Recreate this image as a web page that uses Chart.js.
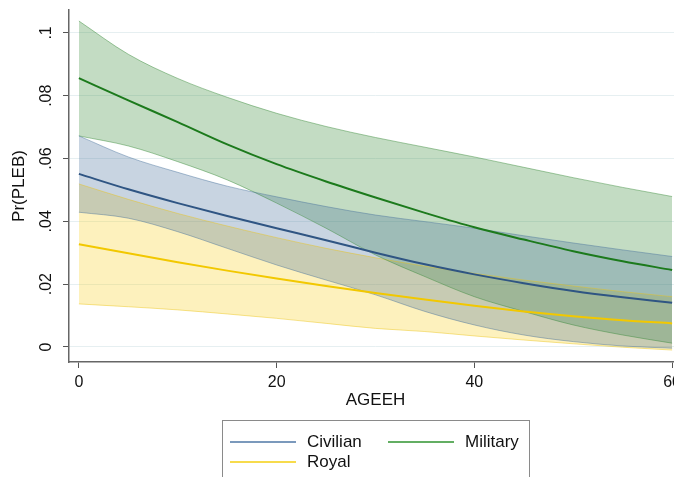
<!DOCTYPE html>
<html>
<head>
<meta charset="utf-8">
<script src="https://cdn.jsdelivr.net/npm/chart.js@4/dist/chart.umd.min.js"></script>
<style>
  html, body { margin: 0; padding: 0; background: #fff; overflow: hidden; }
  #wrap { width: 690px; height: 477px; position: relative; }
</style>
</head>
<body>
<div id="wrap"><canvas id="c" width="690" height="477"></canvas></div>
<script>
// Predicted Pr(PLEB) by age of executive (AGEEH), with 95% confidence bands
const ages = [0, 5, 10, 15, 20, 25, 30, 35, 40, 45, 50, 55, 60];

const civilian   = [0.0551, 0.0502, 0.0458, 0.0417, 0.0378, 0.0340, 0.0300, 0.0263, 0.0231, 0.0203, 0.0178, 0.0158, 0.0141];
const civilianHi = [0.0672, 0.0605, 0.0556, 0.0512, 0.0478, 0.0447, 0.0420, 0.0399, 0.0378, 0.0354, 0.0331, 0.0309, 0.0288];
const civilianLo = [0.0429, 0.0410, 0.0367, 0.0314, 0.0261, 0.0213, 0.0166, 0.0113, 0.0070, 0.0038, 0.0017, 0.0003, -0.0004];

const military   = [0.0856, 0.0785, 0.0716, 0.0645, 0.0582, 0.0527, 0.0476, 0.0427, 0.0381, 0.0342, 0.0305, 0.0273, 0.0245];
const militaryHi = [0.1038, 0.0932, 0.0855, 0.0795, 0.0744, 0.0702, 0.0667, 0.0636, 0.0605, 0.0572, 0.0539, 0.0508, 0.0479];
const militaryLo = [0.0672, 0.0640, 0.0590, 0.0532, 0.0458, 0.0378, 0.0293, 0.0224, 0.0160, 0.0113, 0.0070, 0.0038, 0.0012];

const royal      = [0.0327, 0.0298, 0.0270, 0.0243, 0.0218, 0.0194, 0.0172, 0.0151, 0.0131, 0.0113, 0.0098, 0.0085, 0.0075];
const royalHi    = [0.0519, 0.0470, 0.0425, 0.0385, 0.0348, 0.0314, 0.0284, 0.0257, 0.0234, 0.0213, 0.0194, 0.0176, 0.0160];
const royalLo    = [0.0137, 0.0128, 0.0118, 0.0105, 0.0091, 0.0075, 0.0059, 0.0049, 0.0035, 0.0022, 0.0010, -0.0001, -0.0010];

const xTicks = [0, 20, 40, 60];
const yTicks = [0, 0.02, 0.04, 0.06, 0.08, 0.1];
const yTickLabels = ['0', '.02', '.04', '.06', '.08', '.1'];

const FONT = "'Liberation Sans', Arial, Helvetica, sans-serif";

const pts = arr => arr.map((v, i) => ({ x: ages[i], y: v }));

const groups = [
  { name: 'Civilian', mid: civilian, hi: civilianHi, lo: civilianLo,
    line: '#2f5583', fill: 'rgba(72,112,155,0.30)', edge: 'rgba(72,112,155,0.45)', key: '#4f77a6' },
  { name: 'Military', mid: military, hi: militaryHi, lo: militaryLo,
    line: '#1c7a1c', fill: 'rgba(55,138,55,0.30)', edge: 'rgba(55,138,55,0.45)', key: '#2f932f' },
  { name: 'Royal', mid: royal, hi: royalHi, lo: royalLo,
    line: '#f2c800', fill: 'rgba(248,208,38,0.30)', edge: 'rgba(235,195,20,0.45)', key: '#f5cf10' }
];

const common = { pointRadius: 0, pointHoverRadius: 0, cubicInterpolationMode: 'monotone' };

// Fitted lines first so they are painted on top of the bands
const datasets = [];
groups.forEach(g => {
  datasets.push(Object.assign({
    label: g.name, isKey: true, keyColor: g.key,
    data: pts(g.mid), borderColor: g.line, borderWidth: 2, fill: false
  }, common));
});
groups.forEach(g => {
  const upperIndex = datasets.length;
  datasets.push(Object.assign({
    label: g.name + ' upper', data: pts(g.hi), borderColor: g.edge, borderWidth: 1,
    backgroundColor: g.fill, fill: upperIndex + 1
  }, common));
  datasets.push(Object.assign({
    label: g.name + ' lower', data: pts(g.lo), borderColor: g.edge, borderWidth: 1, fill: false
  }, common));
});

// Vertical y tick labels, placed through the y scale
const yLabelPlugin = {
  id: 'yLabels',
  afterDraw(chart) {
    const { ctx } = chart;
    const ys = chart.scales.y;
    ctx.save();
    ctx.font = '16px ' + FONT;
    ctx.fillStyle = '#111';
    ctx.textAlign = 'center';
    ctx.textBaseline = 'middle';
    yTicks.forEach((v, i) => {
      const py = ys.getPixelForValue(v);
      ctx.save();
      ctx.translate(47, py);
      ctx.rotate(-Math.PI / 2);
      ctx.fillText(yTickLabels[i], 0, 0);
      ctx.restore();
    });
    ctx.restore();
  }
};

// Boxed legend below the axis title
const legendBoxPlugin = {
  id: 'legendBox',
  afterDraw(chart) {
    const { ctx } = chart;
    const keys = chart.data.datasets.filter(d => d.isKey);
    const slots = [
      { x: 230, y: 442 },
      { x: 388, y: 442 },
      { x: 230, y: 462 }
    ];
    ctx.save();
    ctx.strokeStyle = '#8a8a8a';
    ctx.lineWidth = 1;
    ctx.strokeRect(222.5, 420.5, 307, 70);
    ctx.font = '17px ' + FONT;
    ctx.fillStyle = '#111';
    ctx.textBaseline = 'middle';
    ctx.textAlign = 'left';
    keys.forEach((d, i) => {
      const s = slots[i];
      ctx.strokeStyle = d.keyColor;
      ctx.lineWidth = 1.5;
      ctx.beginPath();
      ctx.moveTo(s.x, s.y);
      ctx.lineTo(s.x + 66, s.y);
      ctx.stroke();
      ctx.fillText(d.label, s.x + 77, s.y);
    });
    ctx.restore();
  }
};

new Chart(document.getElementById('c'), {
  type: 'line',
  data: { datasets },
  options: {
    responsive: false,
    animation: false,
    devicePixelRatio: 1,
    layout: { padding: { top: 10, left: 0, right: 8, bottom: 60 } },
    plugins: {
      legend: { display: false },
      tooltip: { enabled: false },
      filler: { drawTime: 'beforeDatasetsDraw' }
    },
    scales: {
      x: {
        type: 'linear', min: -1.0, max: 61,
        afterBuildTicks: s => { s.ticks = xTicks.map(v => ({ value: v })); },
        afterFit: s => { s.height = 55; },
        grid: { drawOnChartArea: false, drawTicks: true, tickLength: 6, tickColor: '#555', tickWidth: 1 },
        border: { color: '#666', width: 1.5 },
        ticks: { font: { family: FONT, size: 16 }, color: '#111', padding: 5, maxRotation: 0, minRotation: 0 },
        title: { display: true, text: 'AGEEH', color: '#111', font: { family: FONT, size: 17 }, padding: { top: 0, bottom: 6 } }
      },
      y: {
        type: 'linear', min: -0.0048, max: 0.1073,
        afterBuildTicks: s => { s.ticks = yTicks.map(v => ({ value: v })); },
        afterFit: s => { s.width = 69; },
        grid: { color: '#e6eff1', lineWidth: 1, drawTicks: true, tickLength: 6, tickColor: '#555', tickWidth: 1 },
        border: { color: '#666', width: 1.5 },
        ticks: { display: false },
        title: { display: true, text: 'Pr(PLEB)', color: '#111', font: { family: FONT, size: 17 }, padding: { top: 9, bottom: 0 } }
      }
    }
  },
  plugins: [yLabelPlugin, legendBoxPlugin]
});
</script>
</body>
</html>
